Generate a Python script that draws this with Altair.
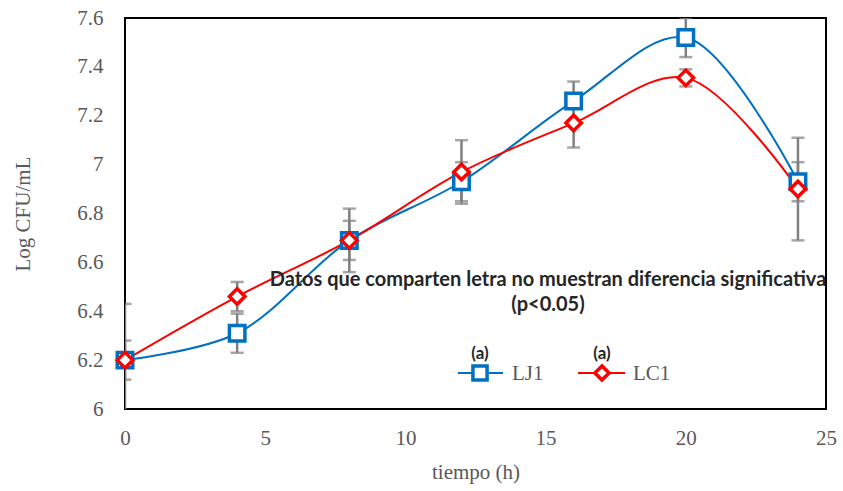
import altair as alt
import pandas as pd

tiempo = [0, 4, 8, 12, 16, 20, 24]
lj1 = [6.20, 6.31, 6.69, 6.93, 7.26, 7.52, 6.93]
lj1_err = [0.23, 0.08, 0.13, 0.08, 0.08, 0.08, 0.08]
lc1 = [6.20, 6.46, 6.69, 6.97, 7.17, 7.355, 6.90]
lc1_err = [0.08, 0.06, 0.08, 0.13, 0.10, 0.035, 0.21]
series = ["LJ1", "LC1"]
colors = ["#0070C0", "#FF0000"]
shapes = ["square", "diamond"]

rows = []
for s, vals, errs in [("LJ1", lj1, lj1_err), ("LC1", lc1, lc1_err)]:
    for t, v, e in zip(tiempo, vals, errs):
        rows.append({"t": t, "v": v, "lo": v - e, "hi": v + e, "serie": s})
df = pd.DataFrame(rows)

serif = "Liberation Serif"
sans = "Lato"

xs = alt.Scale(domain=[0, 25], nice=False)
ys = alt.Scale(domain=[6, 7.6], nice=False)

base = alt.Chart(df)

xenc = alt.X("t:Q", scale=xs, axis=alt.Axis(
    title="tiempo (h)", values=[0, 5, 10, 15, 20, 25], grid=False, ticks=False,
    domain=False, labelFlush=False, labelFont=serif, labelFontSize=21, labelColor="#595959",
    labelPadding=18, titleFont=serif, titleFontSize=21, titleColor="#595959",
    titleFontWeight="normal", titlePadding=13))
yenc = alt.Y("v:Q", scale=ys, axis=alt.Axis(
    title="Log CFU/mL", values=[6, 6.2, 6.4, 6.6, 6.8, 7, 7.2, 7.4, 7.6],
    format=".1~f", grid=False, ticks=False, domain=False, labelFlush=False, labelFont=serif,
    labelFontSize=21, labelColor="#595959", labelPadding=22, titleFont=serif,
    titleFontSize=21, titleColor="#595959", titleFontWeight="normal",
    titlePadding=43))

color = alt.Color("serie:N", scale=alt.Scale(domain=series, range=colors), legend=None)
shape = alt.Shape("serie:N", scale=alt.Scale(domain=series, range=shapes), legend=None)

rules = base.mark_rule(color="#808080", strokeWidth=2.5, clip=True).encode(
    x=xenc, y=alt.Y("lo:Q", scale=ys), y2="hi:Q")
cap_lo = base.mark_tick(color="#808080", thickness=2.5, size=13, orient="horizontal", clip=True).encode(
    x=alt.X("t:Q", scale=xs), y=alt.Y("lo:Q", scale=ys))
cap_hi = base.mark_tick(color="#808080", thickness=2.5, size=13, orient="horizontal", clip=True).encode(
    x=alt.X("t:Q", scale=xs), y=alt.Y("hi:Q", scale=ys))

lines = base.mark_line(interpolate="catmull-rom", strokeWidth=2).encode(
    x=xenc, y=yenc, color=color, detail="serie:N")
points = base.mark_point(filled=False, fill="white", fillOpacity=1, strokeWidth=3.5, size=240, opacity=1).encode(
    x=alt.X("t:Q", scale=xs), y=alt.Y("v:Q", scale=ys), stroke=alt.Stroke("serie:N", scale=alt.Scale(domain=series, range=colors), legend=None),
    shape=shape)

note = alt.Chart(pd.DataFrame({"txt": ["Datos que comparten letra no muestran diferencia significativa", "(p<0.05)"],
                               "yy": [262, 287]})).mark_text(
    font=sans, fontSize=20, fontWeight="bold", color="#262626", align="center", baseline="middle").encode(
    x=alt.value(423), y=alt.Y("yy:Q", scale=None), text="txt:N")

# manual legend
leg = pd.DataFrame({"serie": series, "x1": [333, 453], "x2": [378, 500], "xm": [355, 477],
                    "xt": [387, 508], "lab": series})
leg_lines = alt.Chart(leg).mark_rule(strokeWidth=2).encode(
    x=alt.X("x1:Q", scale=None), x2="x2:Q", y=alt.value(355),
    color=alt.Color("serie:N", scale=alt.Scale(domain=series, range=colors), legend=None))
leg_pts = alt.Chart(leg).mark_point(filled=False, fill="white", fillOpacity=1, strokeWidth=3.5, size=200, opacity=1).encode(
    x=alt.X("xm:Q", scale=None), y=alt.value(355),
    stroke=alt.Stroke("serie:N", scale=alt.Scale(domain=series, range=colors), legend=None),
    shape=alt.Shape("serie:N", scale=alt.Scale(domain=series, range=shapes), legend=None))
leg_txt = alt.Chart(leg).mark_text(font=serif, fontSize=21, color="#595959", align="left", baseline="middle").encode(
    x=alt.X("xt:Q", scale=None), y=alt.value(356), text="lab:N")
leg_a = alt.Chart(leg).mark_text(font=sans, fontSize=17, fontWeight="bold", color="#262626", align="center", baseline="middle").encode(
    x=alt.X("xm:Q", scale=None), y=alt.value(336), text=alt.value("(a)"))

chart = alt.layer(rules, cap_lo, cap_hi, lines, points, note, leg_lines, leg_pts, leg_txt, leg_a).resolve_scale(
    color="independent", stroke="independent", shape="independent").properties(
    width=701, height=391,
    autosize=alt.AutoSizeParams(type="none"),
    padding={"left": 125, "top": 18, "right": 17, "bottom": 82},
    background="white").configure_view(stroke="black", strokeWidth=2)

chart.save("out.html", embed_options={"renderer": "svg", "actions": False})
